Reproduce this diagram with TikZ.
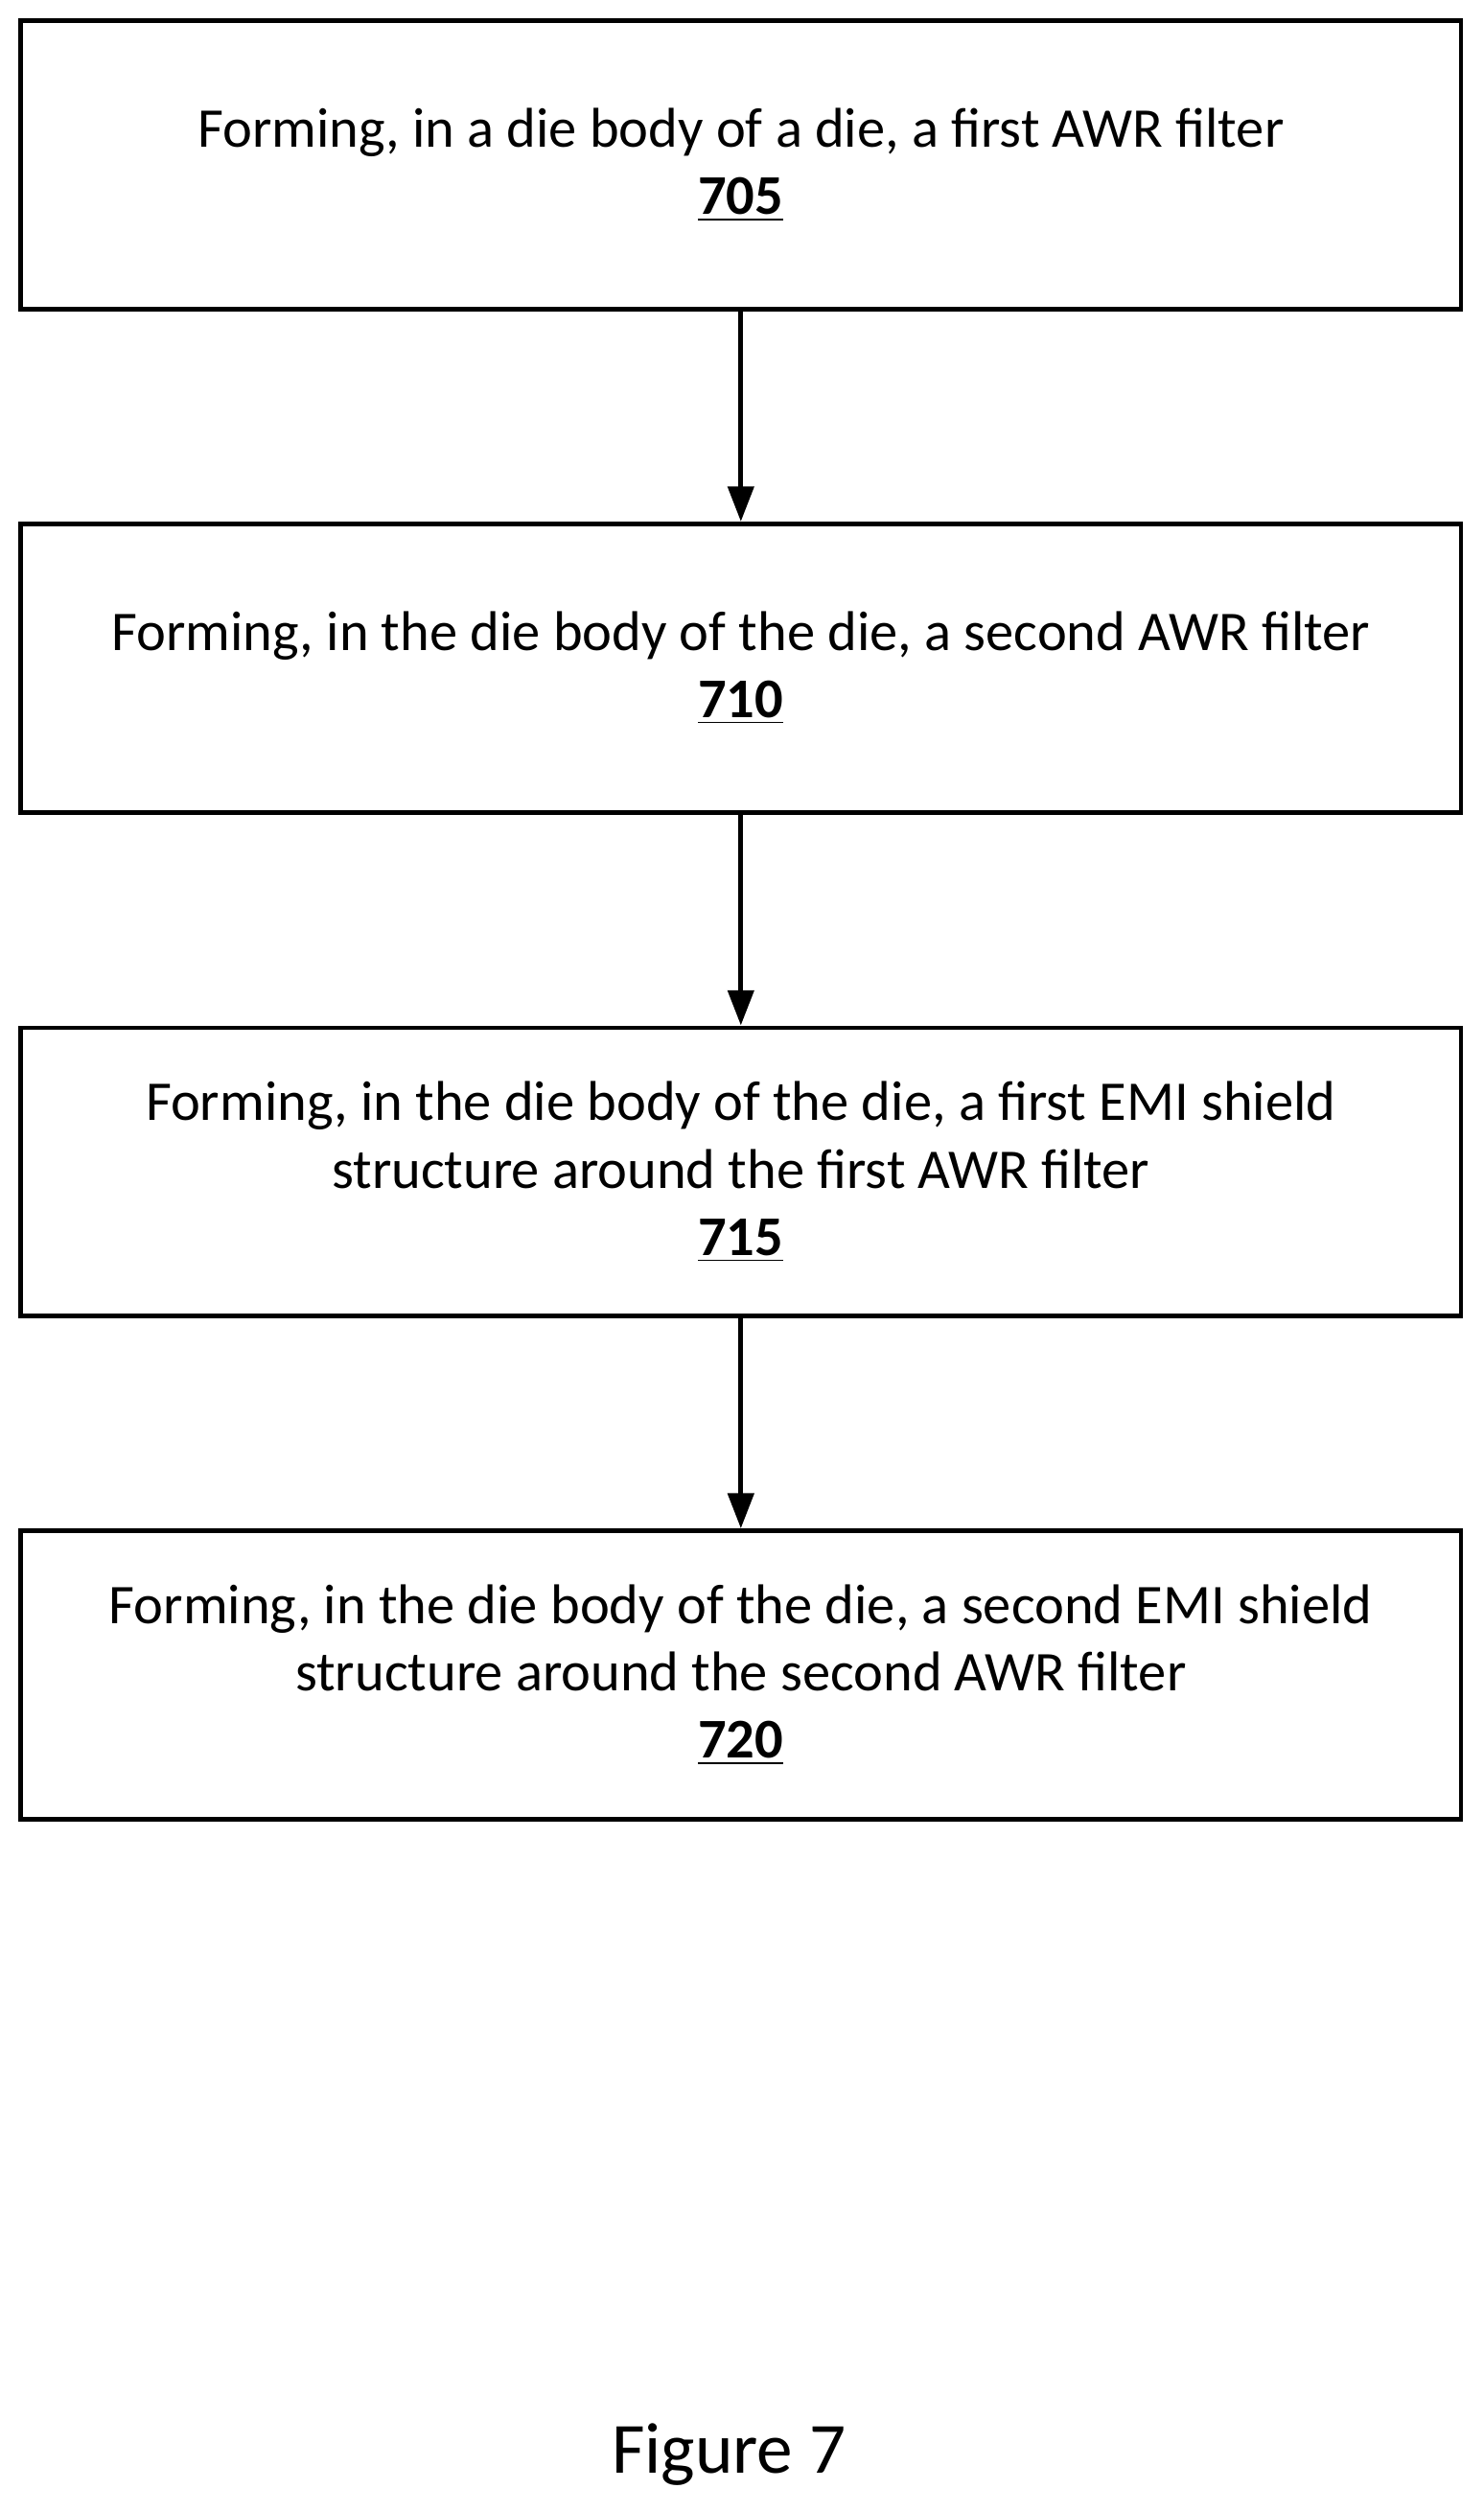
\documentclass[tikz,border=0pt]{standalone}
\usepackage{fontspec}
\setmainfont{Carlito}
\usetikzlibrary{arrows.meta}
\begin{document}
\begin{tikzpicture}[x=0.5pt,y=-0.5pt,
  box/.style={draw,line width=1.4pt,minimum width=449.5pt,minimum height=90pt,align=center,inner sep=0pt,font=\fontsize{17.5pt}{21pt}\selectfont},
  arr/.style={-{Triangle[length=11pt,width=8pt]},line width=1.6pt}]
\useasboundingbox (0,0) rectangle (926,1568);
\node[box] (a) at (462.5,103) {Forming, in a die body of a die, a first AWR filter\\\textbf{\underline{705}}};
\node[box] (b) at (462.5,417) {Forming, in the die body of the die, a second AWR filter\\\textbf{\underline{710}}};
\node[box] (c) at (462.5,731.5) {Forming, in the die body of the die, a first EMI shield\\structure around the first AWR filter\\\textbf{\underline{715}}};
\node[box] (d) at (462.5,1045.5) {Forming, in the die body of the die, a second EMI shield\\structure around the second AWR filter\\\textbf{\underline{720}}};
\draw[arr] (a) -- (b);
\draw[arr] (b) -- (c);
\draw[arr] (c) -- (d);
\node[font=\fontsize{22.5pt}{26pt}\selectfont] (f) at (455,1532) {Figure 7};
\end{tikzpicture}
\end{document}
